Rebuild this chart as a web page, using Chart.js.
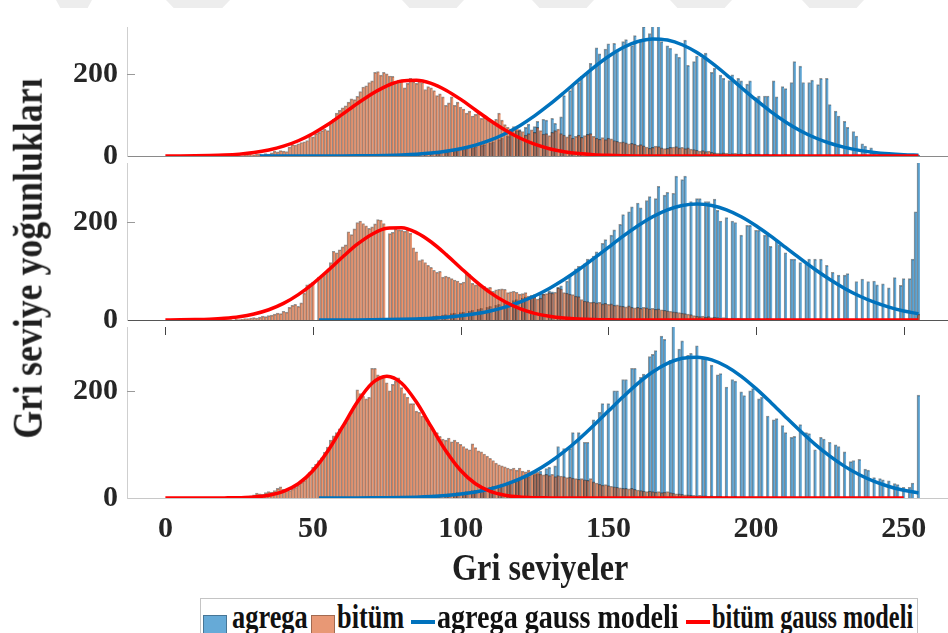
<!DOCTYPE html>
<html>
<head>
<meta charset="utf-8">
<script src="https://cdn.jsdelivr.net/npm/chart.js@4.4.1/dist/chart.umd.min.js"></script>
<style>
  html, body { margin: 0; padding: 0; background: #fff; }
  #wrap { position: relative; width: 948px; height: 633px; overflow: hidden;
          font-family: "Liberation Serif", "Times New Roman", serif; font-weight: bold; color: #1f1f1f; }
  canvas { position: absolute; left: 0; }
  .mark { position: absolute; top: 0; height: 8px; background: #ededed;
          clip-path: polygon(0 0, 100% 0, 88% 100%, 12% 100%); }
  #ytitle { position: absolute; left: 27px; top: 258px; font-size: 43px; line-height: 43px; white-space: nowrap; }
  #xtitle { position: absolute; left: 540px; top: 567px; font-size: 37px; line-height: 37px; white-space: nowrap; }
  #legend { position: absolute; left: 200px; top: 598px; width: 716px; height: 50px;
            border: 1px solid #c4c4c4; background: #fff; }
  #legend .sw { position: absolute; }
  #legend .txt { position: absolute; top: 2px; font-size: 33px; line-height: 33px; white-space: nowrap;
                 color: #111; transform-origin: 0 0; }
</style>
</head>
<body>
<div id="wrap">
  <div class="mark" style="left:56px;width:36px"></div>
  <div class="mark" style="left:166px;width:64px"></div>
  <div class="mark" style="left:402px;width:62px"></div>
  <div class="mark" style="left:532px;width:62px"></div>
  <div class="mark" style="left:670px;width:62px"></div>
  <div class="mark" style="left:802px;width:62px"></div>
  <canvas id="p1" width="948" height="200" style="top:0px"></canvas>
  <canvas id="p2" width="948" height="224" style="top:136px"></canvas>
  <canvas id="p3" width="948" height="260" style="top:300px"></canvas>
  <div id="ytitle">Gri seviye yoğunlukları</div>
  <div id="xtitle">Gri seviyeler</div>
  <div id="legend">
    <div class="sw" style="left:2px;top:16px;width:22px;height:17px;background:rgba(0,114,189,0.6);border:1px solid rgba(0,0,0,0.3)"></div>
    <div class="txt" data-w="76" style="left:31px">agrega</div>
    <div class="sw" style="left:110px;top:16px;width:22px;height:17px;background:rgba(217,83,25,0.6);border:1px solid rgba(0,0,0,0.3)"></div>
    <div class="txt" data-w="67" style="left:136px">bitüm</div>
    <div class="sw" style="left:210px;top:21px;width:24px;height:4px;background:#0072bd"></div>
    <div class="txt" data-w="242" style="left:236px">agrega gauss modeli</div>
    <div class="sw" style="left:485px;top:21px;width:24px;height:4px;background:#ff0000"></div>
    <div class="txt" data-w="201" style="left:511px">bitüm gauss modeli</div>
  </div>
</div>

<script>
// ------------------------------
// DATA (histogram counts per grey level 0..255)
// ------------------------------

// panel 1
const bitum1 = [
  0,0,0,0,0,0,0,0,0,0,0,0,0,0,0,0,
  0,0,0,0,0,1,0,1,0,2,1,3,4,9,3,4,
  5,3,6,5,8,12,10,13,12,11,22,28,27,30,33,35,
  38,51,47,55,58,62,66,62,83,90,105,112,118,123,132,140,
  138,146,158,169,172,180,184,205,207,198,205,201,196,195,180,186,
  184,167,178,190,182,178,184,180,163,170,167,160,148,152,145,124,
  130,145,124,132,120,115,105,110,98,102,105,92,95,88,86,84,
  90,105,88,77,70,66,72,70,62,60,51,55,64,58,70,62,
  54,55,50,58,62,66,55,51,47,52,44,48,51,46,50,53,
  55,48,44,41,45,40,44,42,38,36,34,35,32,30,31,29,
  26,28,25,22,19,21,24,23,20,18,19,21,22,23,20,21,
  18,20,17,16,14,12,13,11,12,9,8,7,6,8,7,5,
  6,7,5,6,5,4,6,5,4,5,3,4,5,3,4,3,
  2,3,4,3,3,2,3,2,3,2,1,2,2,1,2,1,
  1,2,1,1,1,0,1,1,0,1,0,1,0,0,0,0,
  0,0,0,0,0,0,0,0,0,0,0,0,0,0,0,0
];
const agrega1 = [
  0,0,0,0,0,0,0,0,0,0,0,0,0,0,0,0,
  0,0,0,0,0,0,0,0,0,0,0,0,0,0,0,0,
  0,0,0,0,0,0,0,0,0,0,0,0,0,0,0,0,
  0,0,0,0,0,0,0,0,0,0,0,0,1,0,1,0,
  0,1,0,0,2,0,1,0,2,0,2,0,3,0,2,0,
  3,0,4,0,3,0,5,0,5,0,6,0,7,8,0,9,
  11,0,12,14,0,16,18,0,20,23,0,26,28,0,32,35,
  0,40,44,0,48,55,0,62,65,0,70,78,0,72,85,0,
  90,88,0,92,80,0,96,148,0,160,172,0,180,195,0,205,
  227,0,265,250,0,262,275,0,276,258,0,280,285,0,270,295,
  0,285,317,0,300,330,0,325,280,0,270,264,0,250,242,0,
  284,222,0,231,245,0,240,252,0,205,215,0,198,190,0,185,
  199,0,190,184,0,176,184,0,143,147,0,147,147,0,184,145,
  0,170,165,0,180,231,0,220,180,0,180,186,0,175,190,0,
  190,126,0,110,98,0,85,70,0,60,49,0,30,24,0,20,
  12,0,5,4,0,3,1,0,1,0,0,0,0,0,0,2
];

// panel 2
const bitum2 = [
  0,0,0,0,0,0,0,0,0,0,0,0,0,0,0,0,
  0,0,0,1,0,1,1,0,2,1,2,3,3,4,5,4,
  6,8,7,9,10,12,14,13,18,16,26,30,32,28,35,55,
  72,74,78,0,88,92,96,100,118,141,138,144,150,154,181,175,
  187,200,203,198,193,188,191,197,206,205,198,0,177,180,187,185,
  184,182,186,178,148,140,122,124,118,112,108,102,98,100,88,90,
  88,85,82,80,75,78,95,93,75,72,73,70,69,66,67,59,
  62,63,64,63,56,58,59,57,53,54,56,49,50,47,43,45,
  53,54,56,55,57,66,64,56,55,53,52,49,48,42,39,38,
  36,37,35,36,33,34,32,33,30,31,29,28,27,29,26,25,
  26,24,26,25,23,24,22,23,21,20,19,18,17,16,15,14,
  13,12,11,9,8,7,8,6,7,5,6,5,4,5,4,3,
  4,3,4,3,3,3,2,3,2,3,2,2,3,2,2,1,
  2,2,1,2,1,2,1,1,1,0,1,1,0,1,1,0,
  1,0,1,0,0,0,0,0,0,0,0,0,0,0,0,0,
  0,0,0,0,0,0,0,0,0,0,0,0,0,0,0,12
];
const agrega2 = [
  0,0,0,0,0,0,0,0,0,0,0,0,0,0,0,0,
  0,0,0,0,0,0,0,0,0,0,0,0,0,0,0,0,
  0,0,0,0,0,0,0,0,0,0,0,0,0,0,0,0,
  0,0,0,0,0,0,0,1,0,0,0,0,1,0,0,0,
  1,0,0,0,1,0,0,2,0,0,1,0,0,2,0,0,
  2,0,3,3,0,4,5,0,6,6,0,8,9,0,10,11,
  0,13,14,0,15,16,0,18,20,0,22,24,0,26,28,0,
  30,32,0,35,37,0,40,42,0,45,47,0,50,52,0,55,
  53,0,60,58,0,67,70,0,80,92,0,105,110,0,115,125,
  0,131,140,0,157,165,0,174,185,0,196,216,0,222,232,0,
  240,230,0,245,253,0,249,274,0,256,262,0,260,295,0,288,
  295,0,243,0,249,249,0,243,243,0,248,225,203,0,210,0,
  203,200,0,174,0,194,194,0,184,184,0,174,174,151,0,164,
  154,0,138,0,125,125,0,118,0,115,125,0,125,0,125,0,
  112,0,98,0,92,0,92,95,0,0,79,0,84,0,79,0,
  80,72,0,74,0,66,0,87,0,71,85,0,85,125,222,400
];

// panel 3
const bitum3 = [
  0,0,0,0,0,0,0,0,0,0,0,0,0,0,0,0,
  0,0,1,0,1,0,2,1,1,2,1,2,3,4,6,9,
  8,7,10,12,11,14,18,21,16,15,14,17,20,24,29,33,
  40,48,57,63,70,75,85,95,108,116,122,129,134,140,149,160,
  172,202,195,190,185,188,242,242,230,224,228,215,200,212,218,224,
  206,195,188,176,176,162,160,153,152,140,130,122,122,115,110,108,
  112,105,108,104,100,96,92,90,101,94,88,86,82,78,74,70,
  65,62,60,58,56,54,56,52,56,50,49,52,48,46,48,45,
  43,44,42,44,40,42,41,40,38,39,37,36,35,36,34,33,
  36,30,28,26,24,25,23,22,21,20,19,18,18,17,18,16,
  15,14,13,12,13,12,11,12,10,11,12,10,9,8,8,7,
  6,6,5,5,4,5,4,4,3,4,3,3,3,2,3,2,
  2,3,2,2,2,1,2,1,2,1,1,1,1,1,0,1,
  1,0,1,0,0,0,0,0,0,0,0,0,0,0,0,0,
  0,0,0,0,0,0,0,0,0,0,0,0,0,0,0,0,
  0,0,0,0,0,0,0,0,0,0,0,0,0,0,0,0
];
const agrega3 = [
  0,0,0,0,0,0,0,0,0,0,0,0,0,0,0,0,
  0,0,0,0,0,0,0,0,0,0,0,0,0,0,0,0,
  0,0,0,0,0,0,0,0,0,0,0,0,0,0,0,0,
  0,0,0,0,0,0,0,0,0,0,1,0,0,0,0,1,
  0,0,0,1,0,0,1,0,0,2,0,0,1,0,0,2,
  0,0,2,0,0,3,0,0,3,0,4,0,5,6,0,7,
  8,0,9,10,0,11,12,0,14,15,0,17,18,0,20,22,
  0,24,26,0,28,30,0,33,35,0,38,40,0,43,45,50,
  0,55,57,0,60,96,0,92,0,92,122,0,122,0,104,104,
  0,146,0,160,176,0,176,0,200,200,0,221,221,0,242,242,
  0,225,231,0,264,268,275,0,302,296,0,257,330,0,278,293,
  0,266,270,0,284,0,260,262,0,248,0,230,232,0,207,0,
  221,218,0,198,191,0,200,204,0,185,188,0,153,0,146,148,
  0,135,122,0,113,115,0,137,0,122,120,0,90,0,113,110,
  0,104,0,99,96,0,86,0,68,70,0,72,0,54,52,0,
  38,0,36,34,0,32,0,27,25,0,20,0,20,28,0,192
];

// gauss model curves at every 5 grey levels
const gaussX0 = [0,5,10,15,20,25,30,35,40,45,50,55,60,65,70,75,80,85,90,95,100,105,110,115,120,125,
  130,135,140,145,150,155,160,165,170,175,180,185,190,195,200,205,210,215,220,225,230,235,240,245,250,255];
const gaussX0to250 = [0,5,10,15,20,25,30,35,40,45,50,55,60,65,70,75,80,85,90,95,100,105,110,115,120,125,
  130,135,140,145,150,155,160,165,170,175,180,185,190,195,200,205,210,215,220,225,230,235,240,245,250];
const gaussX32 = [32,35,40,45,50,55,60,65,70,75,80,85,90,95,100,105,110,115,120,125,
  130,135,140,145,150,155,160,165,170,175,180,185,190,195,200,205,210,215,220,225,230,235,240,245,250,255];
const gaussX52 = [52,55,60,65,70,75,80,85,90,95,100,105,110,115,120,125,
  130,135,140,145,150,155,160,165,170,175,180,185,190,195,200,205,210,215,220,225,230,235,240,245,250,255];

const bitumGauss1 = [0.1,0.2,0.5,1.2,2.4,4.6,8.4,14.6,24,37.4,55.3,77,102.4,128.5,152.7,172,183.6,185.5,
  177.7,161.2,138.6,112.8,87,63.6,44,28.9,17.9,10.6,5.9,3.1,1.6,0.7,0.3,0.1,
  0,0,0,0,0,0,0,0,0,0,0,0,0,0,0,0,0,0];
const agregaGauss1 = [0,0,0,0,0.1,0.1,0.2,0.4,0.8,1.5,2.6,4.4,7.2,11.5,17.8,26.7,38.8,54.6,74.4,98.3,
  125.6,155.5,186.5,216.6,243.8,265.7,280.5,286.8,284,272.5,253.3,228,198.8,167.8,137.3,108.8,
  83.5,62,44.7,31.2,21.1,13.8,8.7,5.4,3.2,1.8];

const bitumGauss2 = [0.1,0.3,0.8,1.7,3.5,6.7,12.3,21,34,52,74.8,101.2,129.2,155.4,176,188,189,179.2,
  160,134.7,106.8,79.8,56.2,37.3,23.3,13.7,7.6,4,2,0.9,0.4,0.2,
  0,0,0,0,0,0,0,0,0,0,0,0,0,0,0,0,0,0,0,0];
const agregaGauss2 = [0.05,0.07,0.13,0.25,0.44,0.77,1.3,2.2,3.5,5.5,8.5,12.8,18.6,26.4,36.6,49.3,
  64.8,83,103.5,125.8,149,171.9,193.3,211.8,225.9,234.9,238,234.9,225.9,211.8,193.3,171.9,
  149,125.8,103.5,83,64.8,49.3,36.6,26.4,18.6,12.8];

const bitumGauss3 = [0,0,0,0,0.2,0.6,1.8,5.1,12.3,26.6,51.3,87.7,133,179,214,227,214,179,133,87.7,
  51.3,26.6,12.3,5.1,1.8,0.6,0.2,
  0,0,0,0,0,0,0,0,0,0,0,0,0,0,0,0,0,0,0,0,0,0,0,0];
const agregaGauss3 = [0,0,0.1,0.2,0.3,0.5,0.9,1.6,2.8,4.6,7.3,11.3,17.1,25,35.6,49.2,
  66.1,86.3,109.6,135.2,162.1,188.8,213.8,235,251,260.6,262.8,257.6,245.3,227,204,178.3,
  151.3,124.9,100.1,78,59,43.4,31,21.5,14.5,9.5];

const xTicks = [0, 50, 100, 150, 200, 250];
const yTicks = [0, 200];

// ------------------------------
// HELPERS
// ------------------------------
const greyLevels = Array.from({ length: 256 }, (_, i) => i);

function barPoints(counts) {
  return counts
    .map((v, i) => (v > 0 ? { x: greyLevels[i], y: v } : null))
    .filter(Boolean);
}

function curvePoints(xs, ys) {
  return xs.map((x, i) => ({ x: x, y: ys[i] }));
}

const tickFont = { family: '"Liberation Serif", "Times New Roman", serif', size: 30, weight: 'bold' };

// small inward tick marks (MATLAB style)
const innerTicks = {
  id: 'innerTicks',
  afterDatasetsDraw(chart, args, opts) {
    const ctx = chart.ctx;
    const area = chart.chartArea;
    const y = chart.scales.y;
    const x = chart.scales.x;
    ctx.save();
    ctx.lineWidth = 1;
    ctx.strokeStyle = '#9a9a9a';
    yTicks.forEach((v) => {
      if (v === 0) return;
      const py = Math.round(y.getPixelForValue(v)) + 0.5;
      ctx.beginPath();
      ctx.moveTo(area.left, py);
      ctx.lineTo(area.left + 8, py);
      ctx.stroke();
    });
    if (opts.topTicks) {
      ctx.strokeStyle = '#444';
      xTicks.forEach((v) => {
        const px = Math.round(x.getPixelForValue(v)) + 0.5;
        ctx.beginPath();
        ctx.moveTo(px, area.top);
        ctx.lineTo(px, area.top + 8);
        ctx.stroke();
      });
    }
    ctx.restore();
  }
};

function barSet(label, counts, color, order) {
  return {
    label: label,
    data: barPoints(counts),
    backgroundColor: color,
    borderColor: 'rgba(0,0,0,0.42)',
    borderWidth: { left: 1, top: 1, right: 0, bottom: 0 },
    borderSkipped: false,
    grouped: false,
    barPercentage: 1,
    categoryPercentage: 1,
    order: order
  };
}

function makePanel(canvasId, cfg) {
  return new Chart(document.getElementById(canvasId), {
    type: 'bar',
    data: {
      datasets: [
        {
          type: 'line',
          label: 'bitüm gauss modeli',
          data: curvePoints(cfg.redX, cfg.red),
          borderColor: '#ff0000',
          borderWidth: 3.5,
          pointRadius: 0,
          cubicInterpolationMode: 'monotone',
          order: 0
        },
        {
          type: 'line',
          label: 'agrega gauss modeli',
          data: curvePoints(cfg.blueX, cfg.blue),
          borderColor: '#0072bd',
          borderWidth: 3.5,
          pointRadius: 0,
          cubicInterpolationMode: 'monotone',
          order: 1
        },
        barSet('bitüm', cfg.bitum, 'rgba(217,83,25,0.6)', 2),
        barSet('agrega', cfg.agrega, 'rgba(0,114,189,0.6)', 3)
      ]
    },
    options: {
      responsive: false,
      animation: false,
      events: [],
      layout: { padding: { top: cfg.padTop, bottom: cfg.padBottom, left: 0, right: 0 } },
      plugins: {
        legend: { display: false },
        tooltip: { enabled: false },
        innerTicks: { topTicks: cfg.showX }
      },
      scales: {
        x: {
          type: 'linear',
          min: -13,
          max: 265,
          offset: false,
          grid: { display: false, offset: false, drawTicks: false },
          border: { display: true, color: cfg.baseColor, width: 1 },
          ticks: { display: cfg.showX, padding: 13, font: tickFont, color: '#262626', maxRotation: 0 },
          afterBuildTicks: (s) => { s.ticks = xTicks.map((v) => ({ value: v })); },
          afterFit: (s) => { s.height = cfg.xHeight; }
        },
        y: {
          min: 0,
          max: cfg.yMax,
          grid: { display: false, drawTicks: false },
          border: { display: true, color: '#cfcfcf', width: 1 },
          ticks: { padding: 9, font: tickFont, color: '#262626' },
          afterBuildTicks: (s) => { s.ticks = yTicks.map((v) => ({ value: v })); },
          afterFit: (s) => { s.width = 127; }
        }
      }
    },
    plugins: [innerTicks]
  });
}

// ------------------------------
// BUILD PANELS
// ------------------------------
makePanel('p1', {
  bitum: bitum1, agrega: agrega1,
  red: bitumGauss1, redX: gaussX0, blue: agregaGauss1, blueX: gaussX32,
  yMax: 316, padTop: 8, padBottom: 44, xHeight: 0, showX: false, baseColor: '#8a8a8a'
});
makePanel('p2', {
  bitum: bitum2, agrega: agrega2,
  red: bitumGauss2, redX: gaussX0, blue: agregaGauss2, blueX: gaussX52,
  yMax: 322, padTop: 20, padBottom: 40, xHeight: 0, showX: false, baseColor: '#555555'
});
makePanel('p3', {
  bitum: bitum3, agrega: agrega3,
  red: bitumGauss3, redX: gaussX0to250, blue: agregaGauss3, blueX: gaussX52,
  yMax: 319, padTop: 20, padBottom: 0, xHeight: 62, showX: true, baseColor: '#c8c8c8'
});

// ------------------------------
// TITLES / LEGEND: squeeze the serif text to the narrow look of the figure
// ------------------------------
function fitText(el, targetW, rotate) {
  const w = el.offsetWidth;
  const h = el.offsetHeight;
  const k = targetW / w;
  if (rotate) {
    el.style.left = (27 - w / 2) + 'px';
    el.style.top = (258 - h / 2) + 'px';
    el.style.transform = 'rotate(-90deg) scaleX(' + k + ')';
  } else {
    el.style.transform = 'scaleX(' + k + ')';
  }
}
const yt = document.getElementById('ytitle');
fitText(yt, 360, true);
const xt = document.getElementById('xtitle');
xt.style.left = (540 - xt.offsetWidth / 2) + 'px';
xt.style.top = (567 - xt.offsetHeight / 2) + 'px';
fitText(xt, 176, false);
document.querySelectorAll('#legend .txt').forEach((el) => fitText(el, Number(el.dataset.w), false));
</script>
</body>
</html>
